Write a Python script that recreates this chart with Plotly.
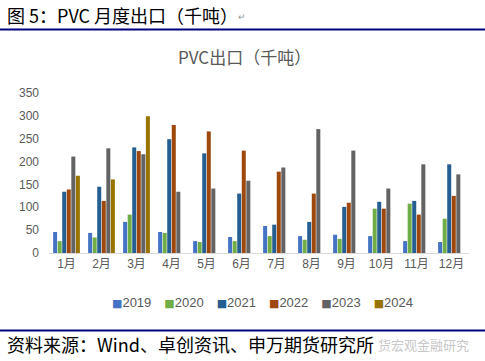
import plotly.graph_objects as go

months = ["1月", "2月", "3月", "4月", "5月", "6月", "7月", "8月", "9月", "10月", "11月", "12月"]
years = ["2019", "2020", "2021", "2022", "2023", "2024"]
v2019 = [46, 44, 68, 46, 26, 35, 59, 37, 40, 37, 26, 24]
v2020 = [26, 34, 84, 44, 24, 26, 37, 29, 31, 97, 108, 75]
v2021 = [134, 145, 231, 249, 218, 130, 62, 68, 101, 112, 114, 194]
v2022 = [139, 114, 223, 280, 266, 224, 178, 130, 110, 97, 84, 125]
v2023 = [211, 229, 216, 134, 141, 158, 187, 271, 224, 141, 194, 172]
v2024 = [169, 161, 299, None, None, None, None, None, None, None, None, None]
series = [v2019, v2020, v2021, v2022, v2023, v2024]
colors = ["#4472C4", "#70AD47", "#255E91", "#9E480E", "#636363", "#997300"]
yticks = [0, 50, 100, 150, 200, 250, 300, 350]

fig = go.Figure()
for name, vals, c in zip(years, series, colors):
    fig.add_trace(go.Bar(name=name, x=months, y=vals, marker_color=c, marker_line_width=0,
                         showlegend=False))

L, R, T, B = 49, 469, 93, 253
W, H = 485, 361

def px(x):
    return (x - L) / (R - L)

def py(y):
    return (B - y) / (B - T)

fig.update_layout(
    width=W, height=H,
    margin=dict(l=L, r=W - R, t=T, b=H - B),
    paper_bgcolor="white", plot_bgcolor="white",
    barmode="group", bargap=0.22, bargroupgap=0.12,
    font=dict(family="Liberation Sans, Noto Sans CJK SC", color="#595959", size=12),
    showlegend=False,
    xaxis=dict(showgrid=False, showline=True, linecolor="#D9D9D9", linewidth=1,
               ticks="", tickfont=dict(size=12, color="#595959"), fixedrange=True),
    yaxis=dict(range=[0, 350], tickvals=yticks, showgrid=False, zeroline=False,
               showline=False, ticks="", tickfont=dict(size=12, color="#595959"),
               ticklabelstandoff=9),
)

legend_text = "\u2003".join(
    f'<span style="color:{c};font-size:11px;font-family:DejaVu Sans">■</span>{y}'
    for y, c in zip(years, colors)
)

annotations = [
    dict(text="图 5：PVC 月度出口（千吨）", x=px(5), y=py(15), xanchor="left", yanchor="middle",
         font=dict(size=18, color="#000000", family="Noto Sans CJK SC")),
    dict(text="↵", x=px(236), y=py(17), xanchor="left", yanchor="middle",
         font=dict(size=9, color="#999999")),
    dict(text="PVC出口（千吨）", x=px(244), y=py(57), xanchor="center", yanchor="middle",
         font=dict(size=17, color="#595959", family="Noto Sans CJK SC")),
    dict(text=legend_text, x=px(262), y=py(302), xanchor="center", yanchor="middle",
         font=dict(size=13, color="#595959", family="Liberation Sans")),
    dict(text="货宏观金融研究", x=px(471), y=py(344), xanchor="right", yanchor="middle",
         font=dict(size=13, color="#C8C8C8", family="Noto Sans CJK SC")),
    dict(text="资料来源：Wind、卓创资讯、申万期货研究所", x=px(5), y=py(344), xanchor="left", yanchor="middle",
         font=dict(size=18, color="#000000", family="Noto Sans CJK SC")),
]
for a in annotations:
    a.update(xref="paper", yref="paper", showarrow=False)
    fig.add_annotation(**a)

for ypix in (29.5, 330.5):
    fig.add_shape(type="line", xref="paper", yref="paper", x0=px(0), x1=px(W), y0=py(ypix), y1=py(ypix),
                  line=dict(color="#000080", width=2))

fig.write_html("out.html", config={"displayModeBar": False},
               post_script="document.body.style.margin='0';document.body.style.overflow='hidden';")
